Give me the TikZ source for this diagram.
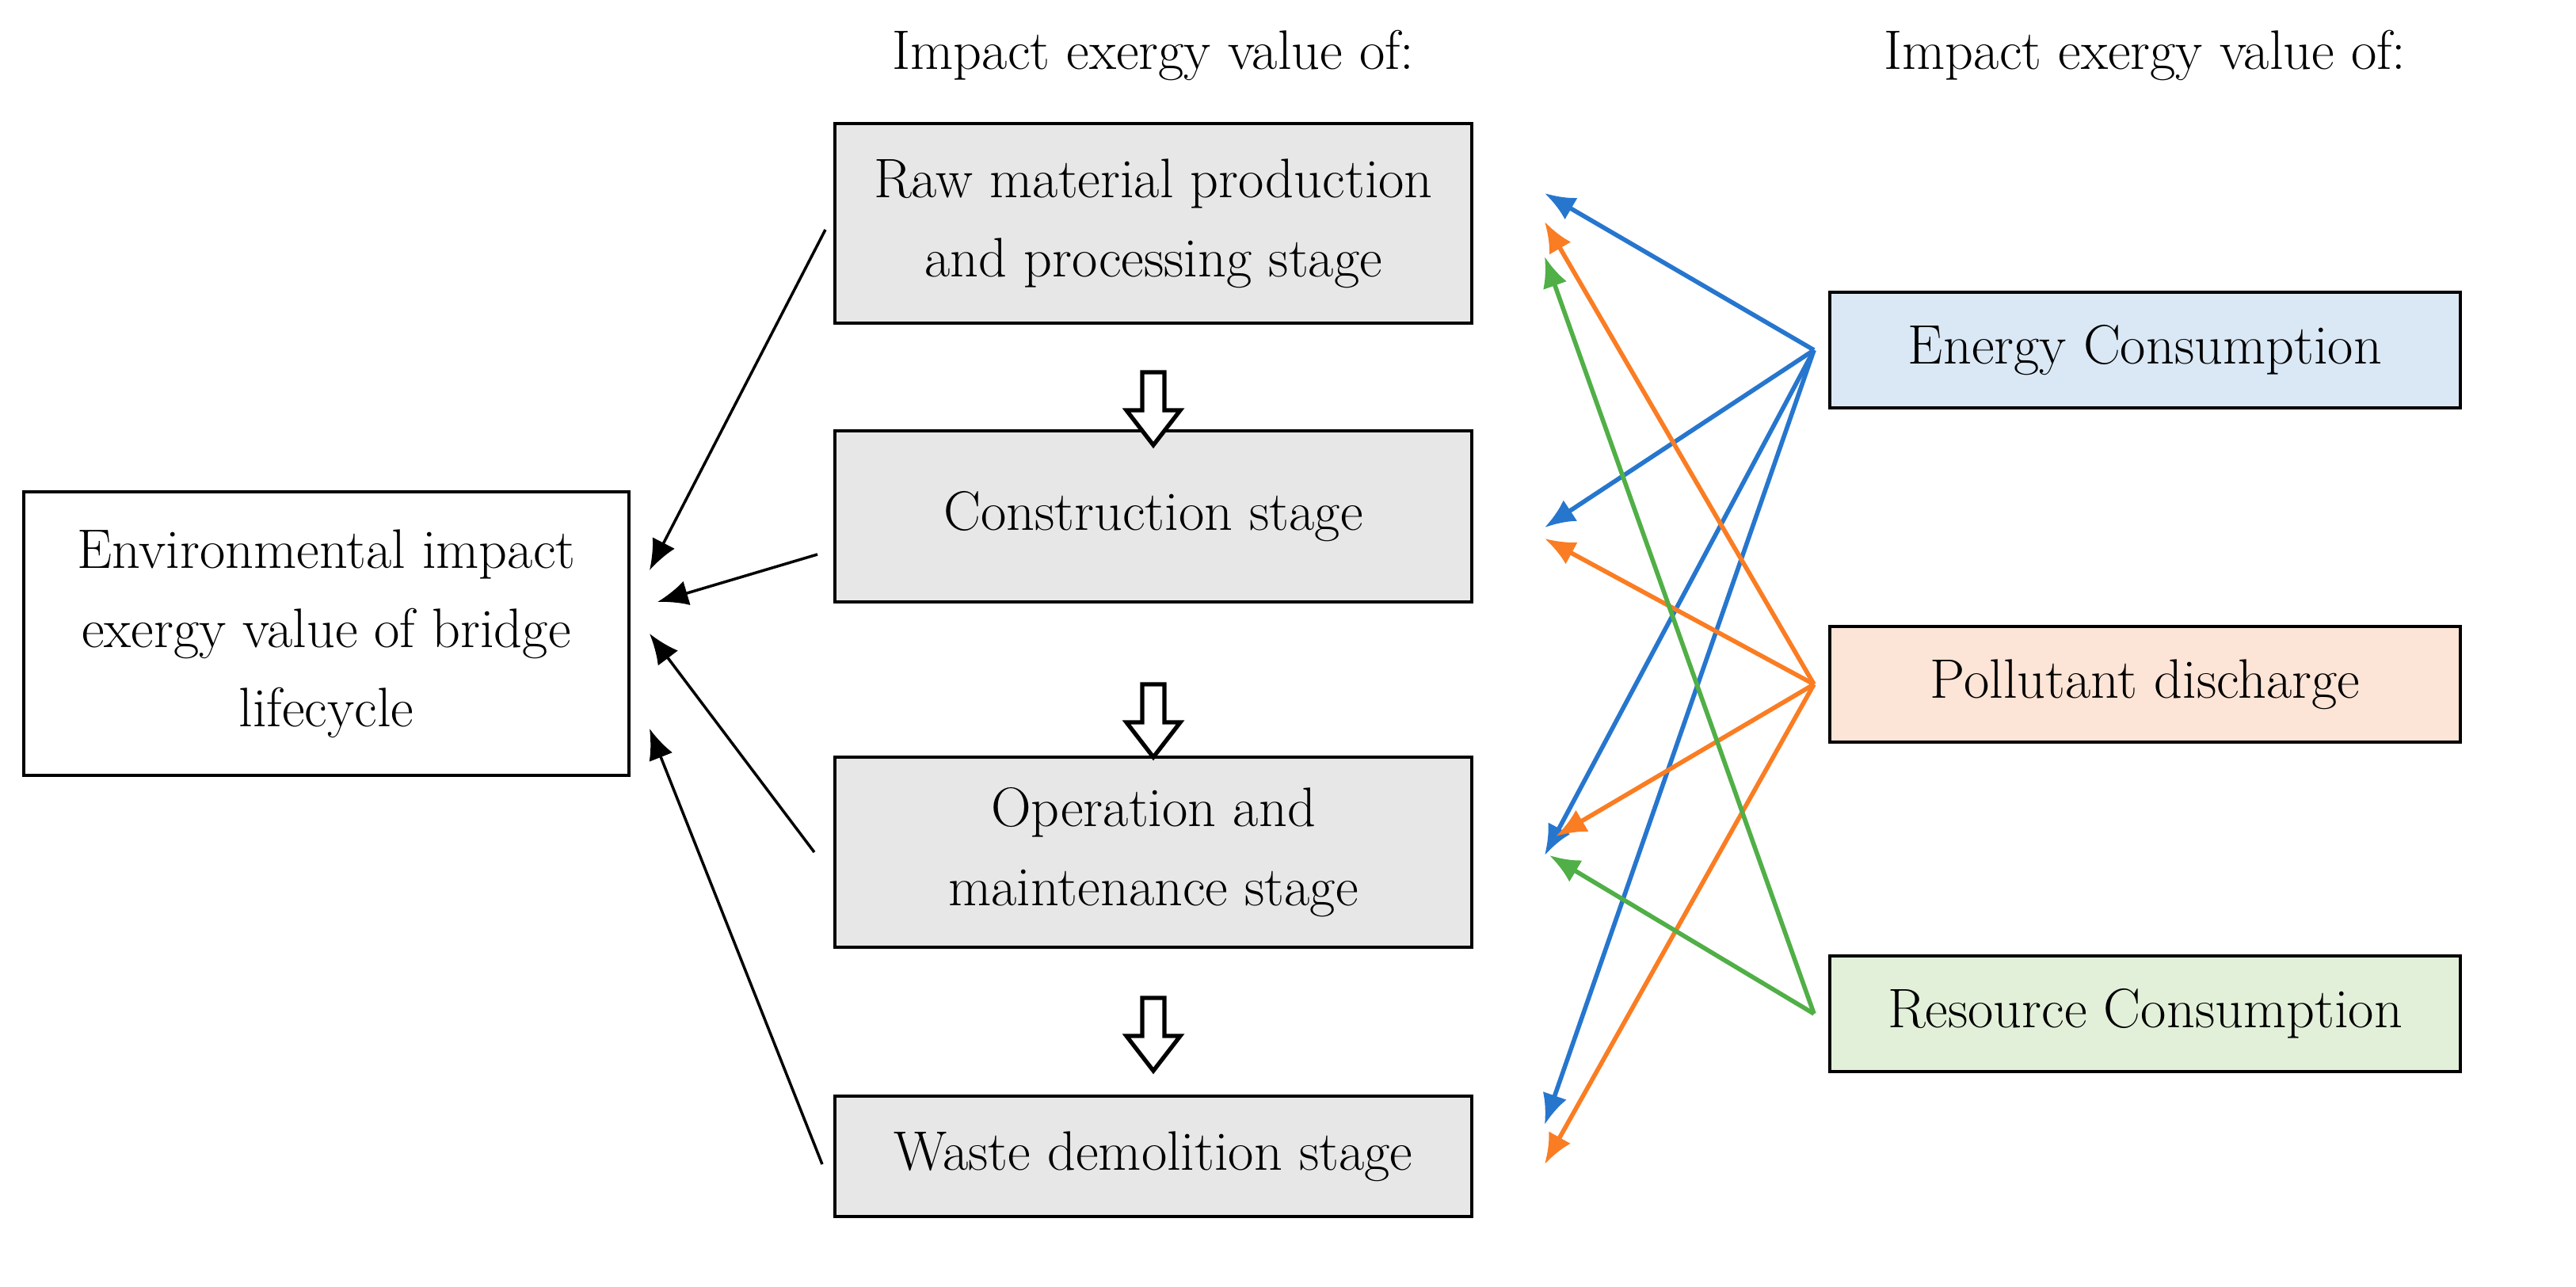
\documentclass[tikz,border=0pt]{standalone}
\usepackage{tikz}
\usepackage{xcolor}
\usetikzlibrary{shapes,arrows,arrows.meta,positioning,calc}
\definecolor{stagegray}{RGB}{231,231,231}
\definecolor{energyblue}{RGB}{218,232,245}
\definecolor{pollorange}{RGB}{252,228,214}
\definecolor{resgreen}{RGB}{226,240,217}
\definecolor{lineblue}{RGB}{38,118,206}
\definecolor{lineorange}{RGB}{250,125,35}
\definecolor{linegreen}{RGB}{80,175,70}
\tikzset{
  box/.style={rectangle, draw, line width=1.2pt, align=center, font=\fontsize{20}{28.5}\selectfont},
  stage/.style={box, fill=stagegray, minimum width=8.04cm},
  source/.style={box, minimum width=7.96cm, minimum height=1.46cm},
  tolife/.style={-{Latex[length=11pt,width=9pt]}, line width=1pt},
  feed/.style={-{Latex[length=11pt,width=9pt]}, line width=1.6pt}
}
\begin{document}
\begin{tikzpicture}[x=0.02cm, y=-0.02cm]
\useasboundingbox (0,0) rectangle (1626,812.5);
\node[font=\fontsize{20}{28.5}\selectfont] (head1) at (728,35) {Impact exergy value of:};
\node[font=\fontsize{20}{28.5}\selectfont] (head2) at (1354,35) {Impact exergy value of:};

\node[stage, minimum height=2.52cm] (raw) at (728,141) {Raw material production\\and processing stage};
\node[stage, minimum height=2.16cm] (cons) at (728,326) {Construction stage};
\node[stage, minimum height=2.4cm] (oper) at (728,538) {Operation and\\maintenance stage};
\node[stage, minimum height=1.52cm] (waste) at (728,730) {Waste demolition stage};
\node[box, minimum width=7.64cm, minimum height=3.58cm] (env) at (206,400) {Environmental impact\\exergy value of bridge\\lifecycle};

\node[source, fill=energyblue] (energy) at (1354,221) {Energy Consumption};
\node[source, fill=pollorange] (poll) at (1354,432) {Pollutant discharge};
\node[source, fill=resgreen] (res) at (1354,640) {Resource Consumption};

% hollow arrows between stages
\foreach \y in {235,432,630} {
  \draw[line width=1.5pt, fill=white] (721,\y) -- (735,\y) -- (735,\y+24) -- (745,\y+24)
    -- (728,\y+46) -- (711,\y+24) -- (721,\y+24) -- cycle;
}

% stages to lifecycle
\coordinate (e1) at (410,360);
\coordinate (e2) at (415,380);
\coordinate (e3) at (410,400);
\coordinate (e4) at (410,460);
\draw[tolife] ($(raw.west)+(-5,4)$) -- (e1);
\draw[tolife] ($(cons.west)+(-10,24)$) -- (e2);
\draw[tolife] ($(oper.west)+(-12,0)$) -- (e3);
\draw[tolife] ($(waste.west)+(-7,5)$) -- (e4);

% sources to stages
\coordinate (eo) at (1145,221);
\coordinate (po) at (1145,432);
\coordinate (ro) at (1145,640);
\draw[feed, lineblue] (eo) -- (975,122);
\draw[feed, lineblue] (eo) -- (975,333);
\draw[feed, lineblue] (eo) -- (975,540);
\draw[feed, lineblue] (eo) -- (975,710);
\draw[feed, lineorange] (po) -- (975,140);
\draw[feed, lineorange] (po) -- (975,340);
\draw[feed, lineorange] (po) -- (982,528);
\draw[feed, lineorange] (po) -- (975,735);
\draw[feed, linegreen] (ro) -- (975,162);
\draw[feed, linegreen] (ro) -- (978,540);
\end{tikzpicture}
\end{document}
